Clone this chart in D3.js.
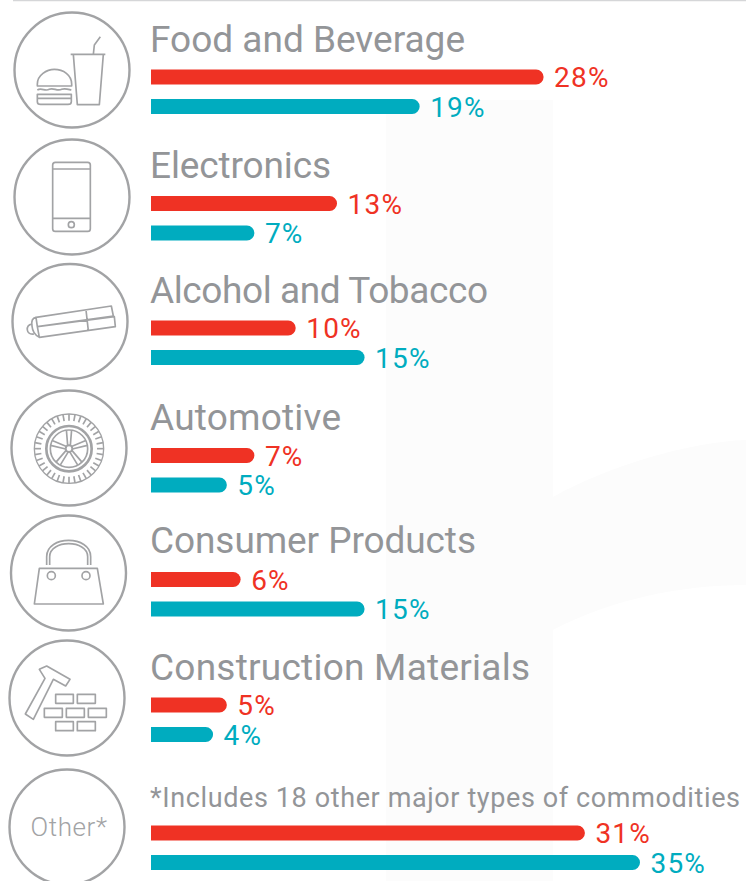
<!DOCTYPE html>
<html><head><meta charset="utf-8">
<script src="https://cdn.jsdelivr.net/npm/d3@7"></script>
<style>
html,body{margin:0;padding:0;background:#fff}
svg{display:block}
text{font-family:Roboto,sans-serif}
</style></head><body><svg id="c" width="746" height="881"></svg>
<script>
const categories=["Food and Beverage","Electronics","Alcohol and Tobacco","Automotive","Consumer Products","Construction Materials","Other"];
const redValues=[28,13,10,7,6,5,31];
const tealValues=[19,7,15,5,15,4,35];
const footnote="*Includes 18 other major types of commodities";
const otherLabel="Other*";

const svg=d3.select("#c");
const RED="#ef3224",TEAL="#00acbf",GREY="#939598",RING="#a2a3a5";
const barLeft=151,barH=15;
const x=d3.scaleLinear().domain([0,35]).range([158,640]);
const rowY=d3.scaleOrdinal(categories,[77,203.5,328,455.5,579.5,705,833]);
const tealGap=29.5;
const ringX=d3.scaleOrdinal(categories,[72,72,70,69,68.5,67,67]);
const ringY=d3.scaleOrdinal(categories,[70,197,321.5,448,573,698,827]);
const titleY=d3.scaleOrdinal(categories,[52,178,303,430,553,680,807]);
const titleLen=d3.scaleOrdinal(categories,[315,181,338,191,326,380,590]);

// background
const bg=svg.append("g").attr("fill","#fcfcfc");
bg.append("rect").attr("x",386).attr("y",100).attr("width",167).attr("height",781);
bg.append("path").attr("d","M553,497 C610,465 690,442 746,440 L746,585 C680,585 610,600 553,630 Z");
svg.append("line").attr("x1",13).attr("x2",746).attr("y1",0.5).attr("y2",0.5).attr("stroke","#d5d6d8").attr("stroke-width",1.5);

// rings
svg.append("g").selectAll("circle").data(categories).join("circle")
 .attr("cx",d=>ringX(d)).attr("cy",d=>ringY(d)).attr("r",57.5)
 .attr("fill","none").attr("stroke",RING).attr("stroke-width",2.4);

// titles
svg.append("g").selectAll("text").data(categories.slice(0,6)).join("text")
 .attr("x",150).attr("y",d=>titleY(d)).text(d=>d)
 .attr("font-size",37).attr("textLength",d=>titleLen(d)).attr("lengthAdjust","spacing").attr("fill",GREY);
svg.append("text").attr("x",150).attr("y",titleY("Other")).text(footnote)
 .attr("font-size",27).attr("textLength",titleLen("Other")).attr("lengthAdjust","spacing").attr("fill",GREY);
svg.append("text").attr("x",69).attr("y",836).attr("text-anchor","middle").text(otherLabel)
 .attr("font-size",26).attr("letter-spacing",0.6).attr("font-weight",300).attr("fill","#a2a3a5");

// bars
function barPath(end,top){
 const r=barH/2;
 return `M${barLeft},${top}H${end-r}A${r},${r} 0 0 1 ${end-r},${top+barH}H${barLeft}Z`;
}
function series(vals,col,dy){
 const g=svg.append("g");
 g.selectAll("path").data(categories).join("path")
  .attr("d",(d,i)=>barPath(x(vals[i]),rowY(d)-barH/2+dy)).attr("fill",col);
 g.selectAll("text").data(categories).join("text")
  .attr("x",(d,i)=>x(vals[i])+10.5).attr("y",d=>rowY(d)+dy+10)
  .text((d,i)=>vals[i]+"%").attr("font-size",28).attr("letter-spacing",1.2).attr("fill",col);
}
series(redValues,RED,0);
series(tealValues,TEAL,tealGap);

// icons (drawn in 3x coordinates)
const icon=(oy)=>svg.append("g").attr("transform",`translate(0,${oy}) scale(${1/3})`)
 .attr("fill","none").attr("stroke",RING).attr("stroke-width",5).attr("stroke-linejoin","round");
// food
let g=icon(0);
g.append("path").attr("d","M212,163H316M220,163L232,314H298L310,163M280,163L283,135L301,110");
g.append("path").attr("d","M112,252C112,225 140,208 163,208C190,208 215,225 215,252V258H112Z");
g.append("path").attr("d","M112,270C125,262 135,275 148,268C160,262 172,275 185,268C195,264 205,268 214,270");
g.append("path").attr("d","M112,283H214V295H112ZM112,295V305Q112,313 122,313H204Q214,313 214,305V295");
// phone
g=icon(0);
g.append("rect").attr("x",158).attr("y",487).attr("width",113).attr("height",207).attr("rx",8);
g.append("path").attr("d","M158,507H271M158,655H271");
g.append("circle").attr("cx",214).attr("cy",674).attr("r",9);
// tobacco
g=icon(260);
g.append("path").attr("d","M108,172L334,138L340,168L112,200ZM112,200L343,170L346,200L118,232L112,200M258,150L265,212M108,172Q92,175 96,198Q98,222 118,232");
g.append("path").attr("d","M96,192Q80,195 82,210Q84,224 102,222");
// wheel
g=icon(260);
const wc=[207,566];
g.append("circle").attr("cx",wc[0]).attr("cy",wc[1]).attr("r",104).attr("stroke-width",4);
g.append("circle").attr("cx",wc[0]).attr("cy",wc[1]).attr("r",68).attr("stroke-width",8);
g.append("circle").attr("cx",wc[0]).attr("cy",wc[1]).attr("r",56);
g.append("circle").attr("cx",wc[0]).attr("cy",wc[1]).attr("r",10).attr("stroke-width",6);
g.selectAll("line.t").data(d3.range(36)).join("line").attr("class","t")
 .attr("x1",d=>wc[0]+84*Math.cos(d*Math.PI/18)).attr("y1",d=>wc[1]+84*Math.sin(d*Math.PI/18))
 .attr("x2",d=>wc[0]+104*Math.cos(d*Math.PI/18)).attr("y2",d=>wc[1]+104*Math.sin(d*Math.PI/18))
 .attr("stroke-width",5);
g.selectAll("path.s").data(d3.range(5)).join("path").attr("class","s")
 .attr("d",d=>{const a=-Math.PI/2+d*2*Math.PI/5,b=0.14,p=(r,t)=>[wc[0]+r*Math.cos(t),wc[1]+r*Math.sin(t)];
  return `M${p(10,a-0.4)}L${p(56,a-b)}M${p(10,a+0.4)}L${p(56,a+b)}`;});
// bag
g=icon(260);
g.append("path").attr("d","M140,915V890C140,825 272,825 272,890V915M149,915V890C149,838 263,838 263,890V915");
g.append("path").attr("d","M118,925H292L310,1032H103Z");
g.append("circle").attr("cx",154).attr("cy",947).attr("r",12);
g.append("circle").attr("cx",258).attr("cy",947).attr("r",12);
// hammer + bricks
g=icon(630);
g.append("path").attr("d","M76,252L135,145L118,118L140,108L210,148L197,168L160,148L100,268Z");
[[167,193,53],[232,193,54],[133,235,54],[199,235,54],[265,235,54],[167,275,53],[232,275,54]].forEach(b=>{
 g.append("rect").attr("x",b[0]).attr("y",b[1]).attr("width",b[2]).attr("height",27);
});
</script></body></html>
